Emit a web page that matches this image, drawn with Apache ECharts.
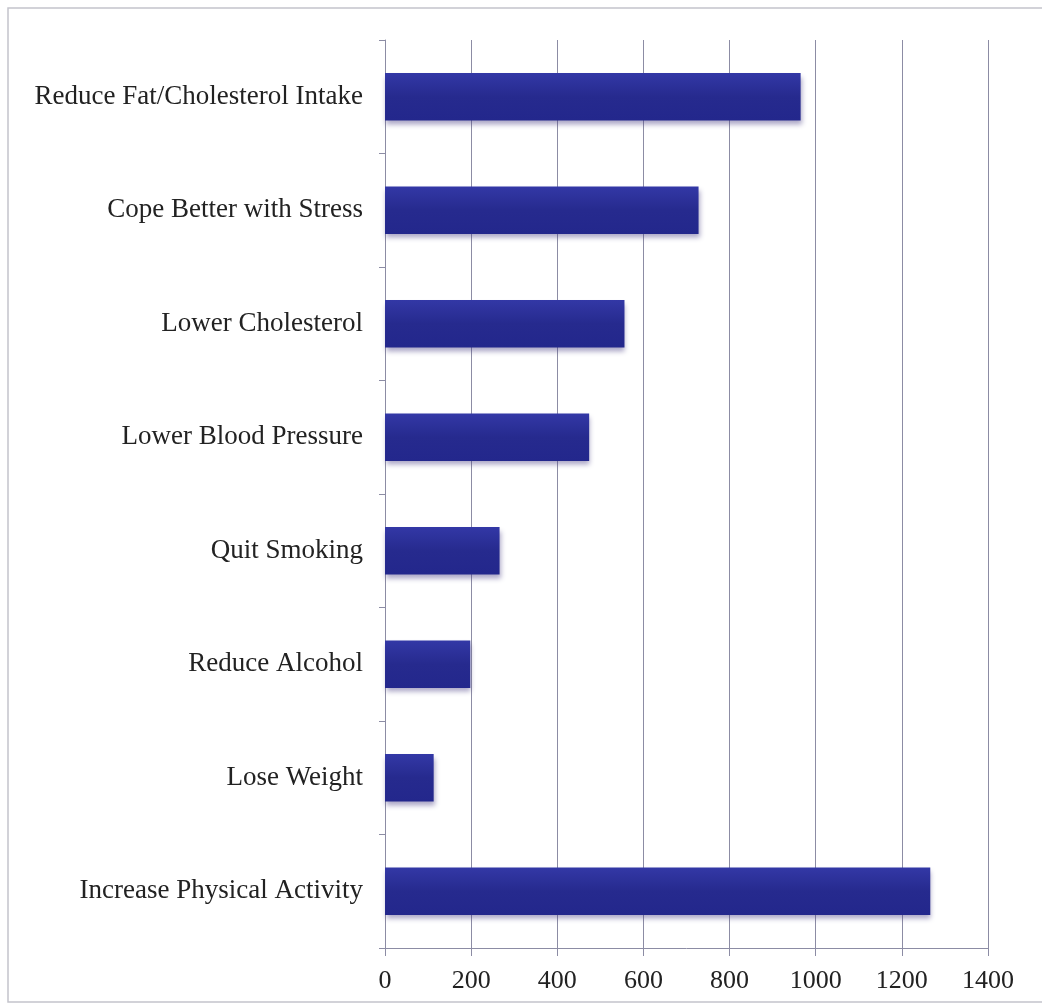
<!DOCTYPE html>
<html>
<head>
<meta charset="utf-8">
<script src="https://cdn.jsdelivr.net/npm/echarts@6/dist/echarts.min.js"></script>
<style>
html,body{margin:0;padding:0;background:#fff;}
#chart{width:1042px;height:1008px;}
</style>
</head>
<body>
<div id="chart"></div>
<script>
// Categories listed top to bottom
var categories = [
  "Reduce Fat/Cholesterol Intake",
  "Cope Better with Stress",
  "Lower Cholesterol",
  "Lower Blood Pressure",
  "Quit Smoking",
  "Reduce Alcohol",
  "Lose Weight",
  "Increase Physical Activity"
];
var values = [965, 728, 556, 474, 266, 198, 113, 1266];
var xTicks = [0, 200, 400, 600, 800, 1000, 1200, 1400];

var chart = echarts.init(document.getElementById('chart'), null, {renderer: 'canvas'});
var gridColor = '#8c8ca4';
chart.setOption({
  backgroundColor: '#ffffff',
  animation: false,
  graphic: [{
    type: 'rect',
    shape: {x: 8, y: 8, width: 1100, height: 994},
    style: {fill: 'none', stroke: '#c4c4cc', lineWidth: 1.5}
  }],
  grid: {left: 385, right: 54, top: 40, bottom: 60, containLabel: false},
  xAxis: {
    type: 'value',
    min: xTicks[0],
    max: xTicks[xTicks.length - 1],
    interval: xTicks[1] - xTicks[0],
    axisLine: {show: true, lineStyle: {color: gridColor, width: 1}},
    axisTick: {show: true, length: 8, lineStyle: {color: gridColor}},
    axisLabel: {
      fontFamily: 'Liberation Serif', fontSize: 26, color: '#222', margin: 20,
      formatter: function (v) { return String(v); }
    },
    splitLine: {show: true, lineStyle: {color: gridColor, width: 1}}
  },
  yAxis: {
    type: 'category',
    data: categories,
    inverse: true,
    axisLine: {show: true, lineStyle: {color: gridColor, width: 1}},
    axisTick: {show: true, length: 6, lineStyle: {color: gridColor}},
    axisLabel: {
      fontFamily: 'Liberation Serif', fontSize: 27, color: '#222', margin: 22
    },
    splitLine: {show: false}
  },
  series: [{
    type: 'bar',
    data: values,
    barWidth: '42%',
    itemStyle: {
      color: new echarts.graphic.LinearGradient(0, 0, 0, 1, [
        {offset: 0, color: '#3338a6'},
        {offset: 0.5, color: '#262a8e'},
        {offset: 1, color: '#23278c'}
      ]),
      shadowColor: 'rgba(70,60,130,0.45)',
      shadowBlur: 5,
      shadowOffsetY: 4,
      shadowOffsetX: 1
    }
  }]
});
</script>
</body>
</html>
